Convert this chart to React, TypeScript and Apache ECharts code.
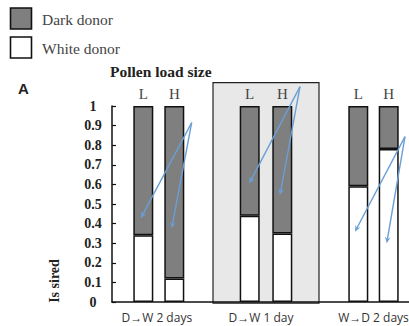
import React, { useEffect, useRef } from "react";
import * as echarts from "echarts";

const groups = ["D→W 2 days", "D→W 1 day", "W→D 2 days"];
const sizes = ["L", "H"];
const whiteDonor = [
  [0.34, 0.12],
  [0.44, 0.35],
  [0.59, 0.78],
];
const darkDonor = [
  [0.66, 0.88],
  [0.56, 0.65],
  [0.41, 0.22],
];
const legendNames = ["Dark donor", "White donor"];
const yAxisName = "Is sired";
const chartTitle = "Pollen load size";
const panelLabel = "A";

// layout (pixels)
const gridTop = 106;
const gridBottom = 24;
const barGrids = [
  { left: 127.8, width: 62 },
  { left: 233.4, width: 65.2 },
  { left: 343.1, width: 60.8 },
];
const arrows = [
  { from: [191.7, 122.7], to: [[140.7, 218.3], [171.7, 228.3]] },
  { from: [300, 86.7], to: [[249.3, 183.3], [280, 195]] },
  { from: [405, 136.7], to: [[355, 231.7], [386.7, 243.3]] },
];

const SERIF = "'Liberation Serif', 'DejaVu Serif', serif";
const SANS = "'Open Sans', 'Noto Sans', sans-serif";
const ARROW_COLOR = "#6a9fd6";
const DARK = "#7f7f7f";
const WHITE = "#ffffff";
const BORDER = "#111";

function arrowElements(from: number[], to: number[]) {
  const [x1, y1] = from;
  const [x2, y2] = to;
  const ang = Math.atan2(y2 - y1, x2 - x1);
  const len = 7;
  const spread = 0.42;
  const p1 = [x2 - len * Math.cos(ang - spread), y2 - len * Math.sin(ang - spread)];
  const p2 = [x2 - len * Math.cos(ang + spread), y2 - len * Math.sin(ang + spread)];
  const back = [x2 - len * 0.6 * Math.cos(ang), y2 - len * 0.6 * Math.sin(ang)];
  return [
    {
      type: "line",
      z: 100,
      shape: { x1, y1, x2: back[0], y2: back[1] },
      style: { stroke: ARROW_COLOR, lineWidth: 1.4 },
    },
    {
      type: "polygon",
      z: 100,
      shape: { points: [[x2, y2], p1, back, p2] },
      style: { fill: ARROW_COLOR },
    },
  ];
}

export default function App() {
  const ref = useRef<HTMLDivElement>(null);
  useEffect(() => {
    if (!ref.current) return;
    const chart = echarts.init(ref.current, null, { renderer: "svg" });

    const grids: any[] = [
      { left: 112, right: 0, top: gridTop, bottom: gridBottom, outerBoundsMode: "none" },
      ...barGrids.map((g) => ({
        left: g.left,
        width: g.width,
        top: gridTop,
        bottom: gridBottom,
        outerBoundsMode: "none",
      })),
    ];

    const xAxes: any[] = [
      {
        type: "value",
        gridIndex: 0,
        min: 0,
        max: 1,
        axisLine: { show: true, lineStyle: { color: BORDER, width: 1.5 } },
        axisTick: { show: false },
        axisLabel: { show: false },
        splitLine: { show: false },
      },
    ];
    const yAxes: any[] = [
      {
        type: "value",
        gridIndex: 0,
        min: 0,
        max: 1,
        interval: 0.1,
        axisLine: { show: true, lineStyle: { color: BORDER, width: 1.5 } },
        axisTick: { show: true, inside: true, length: 4, lineStyle: { color: BORDER, width: 1.2 } },
        axisLabel: {
          fontFamily: SERIF,
          fontWeight: "bold",
          fontSize: 14,
          color: "#222",
          margin: 19,
          align: "center",
          padding: [8, 0, 0, 0],
        },
        splitLine: { show: false },
      },
    ];
    const series: any[] = [];

    barGrids.forEach((_, i) => {
      const gi = i + 1;
      xAxes.push({
        type: "category",
        gridIndex: gi,
        position: "top",
        data: sizes,
        axisLine: { show: false },
        axisTick: { show: false },
        axisLabel: { fontFamily: SERIF, fontSize: 15, color: "#444", margin: 5 },
      });
      xAxes.push({
        type: "category",
        gridIndex: gi,
        position: "bottom",
        data: sizes,
        axisLine: { show: false },
        axisTick: { show: false },
        axisLabel: { show: false },
        name: groups[i],
        nameLocation: "middle",
        nameGap: 9,
        nameTextStyle: {
          fontFamily: SANS,
          fontSize: 12,
          color: "#333",
          padding: i === 0 ? [0, 4, 0, 0] : i === 1 ? [0, 10, 0, 0] : 0,
        },
      });
      yAxes.push({ type: "value", gridIndex: gi, min: 0, max: 1, show: false });
      const topAxisIndex = 1 + i * 2;
      series.push({
        type: "bar",
        name: legendNames[1],
        xAxisIndex: topAxisIndex,
        yAxisIndex: gi,
        stack: "g" + i,
        barWidth: 20,
        data: whiteDonor[i],
        itemStyle: { color: WHITE, borderColor: BORDER, borderWidth: 1.5 },
      });
      series.push({
        type: "bar",
        name: legendNames[0],
        xAxisIndex: topAxisIndex,
        yAxisIndex: gi,
        stack: "g" + i,
        barWidth: 20,
        data: darkDonor[i],
        itemStyle: { color: DARK, borderColor: BORDER, borderWidth: 1.5 },
      });
    });

    const legendColors = [DARK, WHITE];
    const legendGraphics: any[] = [];
    legendNames.forEach((name, i) => {
      const y = 8 + i * 29;
      legendGraphics.push({
        type: "rect",
        shape: { x: 10.5, y, width: 21, height: 21 },
        style: { fill: legendColors[i], stroke: BORDER, lineWidth: 1.6 },
      });
      legendGraphics.push({
        type: "text",
        x: 42,
        y: y + 11,
        style: {
          text: name,
          fontFamily: SERIF,
          fontSize: 15.5,
          fill: "#444",
          align: "left",
          verticalAlign: "middle",
        },
      });
    });

    const graphics: any[] = [
      {
        type: "rect",
        z: -10,
        shape: { x: 213, y: 82.7, width: 106, height: 220.5 },
        style: { fill: "#e8e8e8", stroke: "#222", lineWidth: 1.2 },
      },
      ...legendGraphics,
      {
        type: "text",
        x: 54,
        y: 281,
        rotation: Math.PI / 2,
        style: {
          text: yAxisName,
          fontFamily: SERIF,
          fontWeight: "bold",
          fontSize: 14,
          fill: "#222",
          align: "center",
          verticalAlign: "middle",
        },
      },
      {
        type: "text",
        x: 18,
        y: 88,
        style: {
          text: panelLabel,
          fontFamily: "'Liberation Sans', Arial, sans-serif",
          fontWeight: "bold",
          fontSize: 15,
          fill: "#222",
          align: "left",
          verticalAlign: "middle",
        },
      },
      {
        type: "text",
        x: 110,
        y: 71,
        style: {
          text: chartTitle,
          fontFamily: SERIF,
          fontWeight: "bold",
          fontSize: 15.5,
          fill: "#222",
          align: "left",
          verticalAlign: "middle",
        },
      },
    ];
    arrows.forEach((a) => {
      a.to.forEach((t) => graphics.push(...arrowElements(a.from, t)));
    });

    chart.setOption({
      animation: false,
      backgroundColor: "#ffffff",
      grid: grids,
      xAxis: xAxes,
      yAxis: yAxes,
      series,
      graphic: graphics,
    });
    return () => chart.dispose();
  }, []);
  return (
    <div
      ref={ref}
      style={{ position: "fixed", left: 0, top: 0, width: 409, height: 326 }}
    />
  );
}
